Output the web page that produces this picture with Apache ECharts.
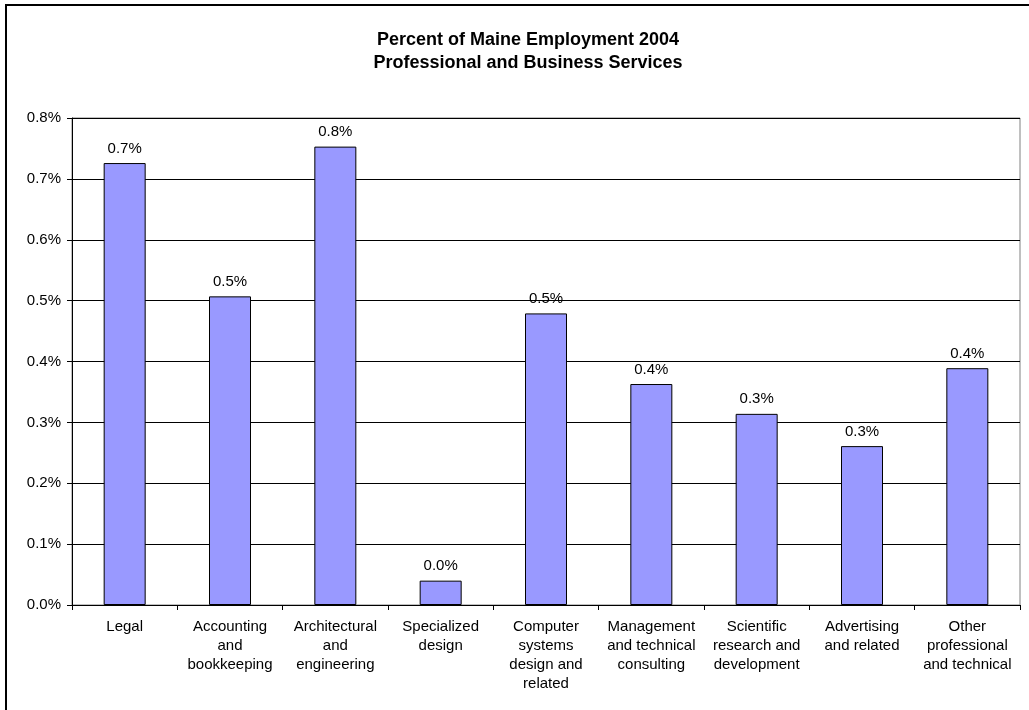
<!DOCTYPE html>
<html>
<head>
<meta charset="utf-8">
<script src="https://cdn.jsdelivr.net/npm/echarts@6/dist/echarts.min.js"></script>
<style>
html,body{margin:0;padding:0;background:#fff;}
#chart{width:1029px;height:710px;}
</style>
</head>
<body>
<div id="chart"></div>
<script>
var categories = [
  "Legal",
  "Accounting\nand\nbookkeeping",
  "Architectural\nand\nengineering",
  "Specialized\ndesign",
  "Computer\nsystems\ndesign and\nrelated",
  "Management\nand technical\nconsulting",
  "Scientific\nresearch and\ndevelopment",
  "Advertising\nand related",
  "Other\nprofessional\nand technical"
];
var values = [0.726, 0.507, 0.753, 0.040, 0.479, 0.363, 0.314, 0.261, 0.389];
var titleText = "Percent of Maine Employment 2004\nProfessional and Business Services";

var font = "'Liberation Sans', Arial, sans-serif";
var chart = echarts.init(document.getElementById('chart'), null, {renderer: 'canvas'});
chart.setOption({
  animation: false,
  backgroundColor: '#fff',
  title: {
    text: titleText,
    left: 523,
    textAlign: 'center',
    top: 24,
    textStyle: {fontFamily: font, fontSize: 18, fontWeight: 'bold', color: '#000', lineHeight: 23}
  },
  graphic: [{
    type: 'rect',
    shape: {x: 6, y: 5, width: 1100, height: 800},
    style: {fill: 'none', stroke: '#000', lineWidth: 2},
    silent: true
  }],
  grid: {
    left: 72, top: 118, width: 948, height: 487,
    show: true, borderColor: '#808080', borderWidth: 1, backgroundColor: 'transparent'
  },
  xAxis: {
    type: 'category',
    data: categories,
    axisLine: {lineStyle: {color: '#000', width: 1}},
    axisTick: {show: true, length: 5, lineStyle: {color: '#000'}},
    axisLabel: {
      interval: 0, margin: 12, color: '#000', fontFamily: font, fontSize: 15,
      lineHeight: 19, align: 'center'
    }
  },
  yAxis: {
    type: 'value',
    min: 0, max: 0.8, interval: 0.1,
    axisLine: {show: true, lineStyle: {color: '#000', width: 1}},
    axisTick: {show: true, length: 5, lineStyle: {color: '#000'}},
    splitLine: {show: true, lineStyle: {color: '#000', width: 1}},
    axisLabel: {
      margin: 11, color: '#000', fontFamily: font, fontSize: 15,
      formatter: function (v) { return v.toFixed(1) + '%'; }
    }
  },
  series: [{
    type: 'bar',
    data: values,
    barWidth: 42,
    itemStyle: {color: '#9999FF', borderColor: '#000', borderWidth: 1},
    label: {
      show: true, position: 'top', distance: 7, color: '#000',
      fontFamily: font, fontSize: 15,
      formatter: function (p) { return p.value.toFixed(1) + '%'; }
    }
  }]
});
</script>
</body>
</html>
